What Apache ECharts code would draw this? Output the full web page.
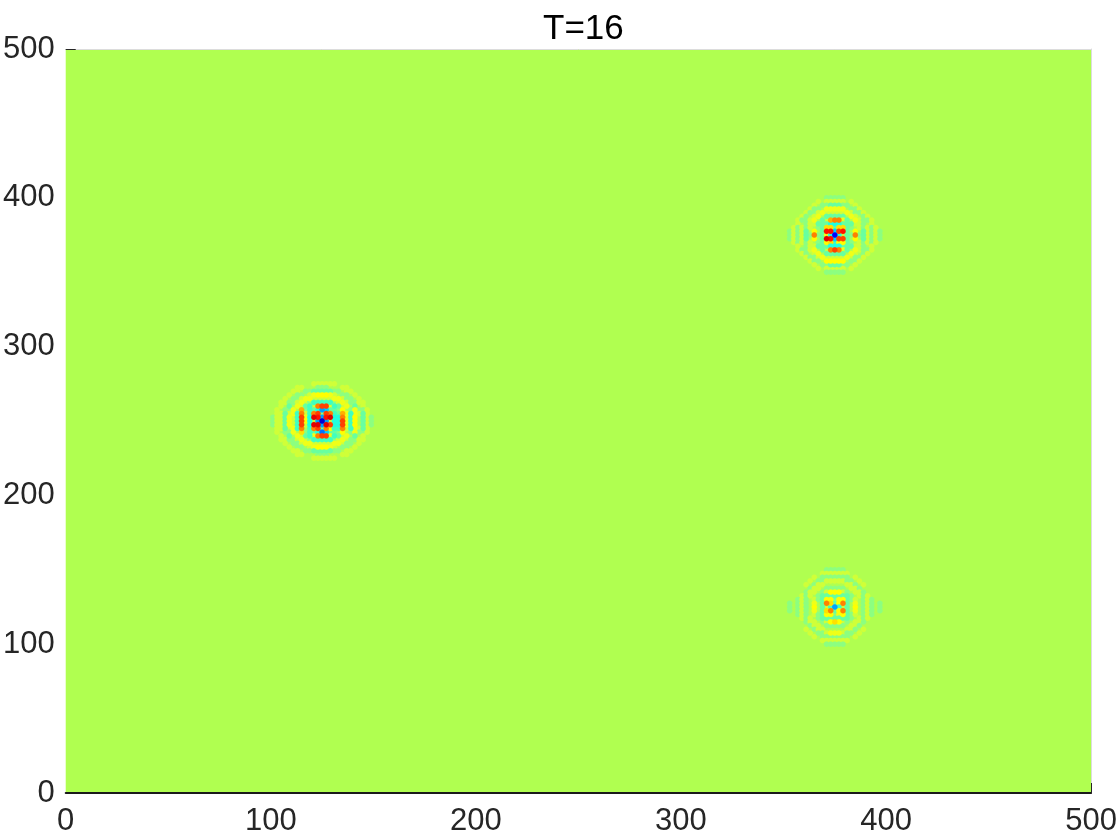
<!DOCTYPE html>
<html>
<head>
<meta charset="utf-8">
<style>html,body{margin:0;padding:0;background:#fff}#chart{width:1120px;height:840px}</style>
<script src="https://cdn.jsdelivr.net/npm/echarts@6/dist/echarts.min.js"></script>
</head>
<body>
<div id="chart"></div>
<script>
const titleText = 'T=16'
const xTicks = [0, 100, 200, 300, 400, 500]
const yTicks = [0, 100, 200, 300, 400, 500]
// cell size in axis units
const cellX = 2
const cellY = 2.5
// colour for each field level -10..9, jet-like, level 0 is the plot background
const levelColors = [
  '#0000d0', '#0000ff', '#0040ff', '#0070ff', '#00a0ff', '#00d0ff', '#20ffe0', '#40ffc0', '#68ffa0', '#8cff80',
  '#b0ff50',
  '#d0ff38', '#f0ff18', '#ffff00', '#ffe000', '#ffb000', '#ff8000', '#ff4000', '#ff1000', '#e00000'
]
// field values, top row first, 0 = background
const leftPacket = [
  [0,0,0,0,0,0,0,0,0,0,1,1,1,1,1,1,0,0,0,0,0,0,0,0,0],
  [0,0,0,0,0,0,1,1,0,0,0,-1,-1,-1,0,0,0,1,1,0,0,0,0,0,0],
  [0,0,0,0,0,1,1,0,-1,-1,-2,-2,-2,-2,-2,-1,-1,0,1,1,0,0,0,0,0],
  [0,0,0,0,1,0,-1,-1,0,1,2,3,3,3,2,1,0,-1,-1,0,1,0,0,0,0],
  [0,0,0,1,0,-1,-1,1,2,2,1,1,1,1,1,2,2,1,-1,-1,0,1,0,0,0],
  [0,0,1,1,-1,-1,1,2,1,-1,-3,-3,-3,-3,-3,-1,1,2,1,-1,-1,1,1,0,0],
  [0,0,1,0,-2,0,2,1,-2,-3,1,6,7,7,2,-3,-2,1,2,0,-2,0,1,0,0],
  [0,1,0,-1,-1,2,0,5,-1,-3,-2,-4,-6,-5,-2,-2,-1,3,0,-1,2,-1,-1,1,0],
  [0,1,1,-2,1,2,-3,6,1,-3,6,7,-1,7,6,-3,-2,5,2,-3,2,1,-2,1,0],
  [-1,1,1,-2,2,1,-3,7,2,-4,9,8,-6,8,9,-4,-4,6,2,-3,3,0,-2,1,-1],
  [-1,1,1,-2,2,1,-3,7,3,-4,1,-6,-10,-6,1,-4,-4,7,2,-3,3,0,-2,1,-1],
  [-1,1,1,-2,2,1,-3,7,1,-4,9,9,-6,9,7,-4,-4,7,2,-3,3,0,-2,1,-1],
  [0,1,1,-2,1,2,-3,6,0,-3,6,7,-2,6,3,-3,-3,6,1,-3,2,1,-2,1,0],
  [0,1,0,-1,-1,2,0,4,-1,-3,-2,-4,-7,-5,-2,-2,-1,3,0,-1,2,-1,-1,1,0],
  [0,0,1,0,-2,0,2,1,-2,-3,2,6,7,7,2,-3,-2,1,2,0,-2,0,1,0,0],
  [0,0,1,1,-1,-1,1,2,1,-1,-3,-3,-3,-3,-3,-1,1,2,1,-1,-1,1,1,0,0],
  [0,0,0,1,0,-1,-1,1,2,2,1,1,1,1,1,2,2,1,-1,-1,0,1,0,0,0],
  [0,0,0,0,1,0,-1,-1,0,1,2,3,3,3,2,1,0,-1,-1,0,1,0,0,0,0],
  [0,0,0,0,0,1,1,0,-1,-1,-2,-2,-2,-2,-2,-1,-1,0,1,1,0,0,0,0,0],
  [0,0,0,0,0,0,1,1,0,0,0,-1,-1,-1,0,0,0,1,1,0,0,0,0,0,0],
  [0,0,0,0,0,0,0,0,0,0,1,1,1,1,1,1,0,0,0,0,0,0,0,0,0]
]
const upperPacket = [
  [0,0,0,0,0,0,0,0,0,0,-1,-1,-1,-1,-1,0,0,0,0,0,0,0,0,0,0],
  [0,0,0,0,0,0,0,0,1,0,1,1,1,1,1,0,1,0,0,0,0,0,0,0,0],
  [0,0,0,0,0,0,0,1,0,-1,-1,-2,-2,-2,-1,-1,0,1,0,0,0,0,0,0,0],
  [0,0,0,0,0,0,1,-1,-1,0,2,2,2,2,2,0,-1,-1,1,0,0,0,0,0,0],
  [0,0,0,0,0,1,-1,-1,1,2,1,1,1,1,1,2,1,-1,-1,1,0,0,0,0,0],
  [0,0,0,0,1,-1,0,1,2,0,-2,-2,-2,-2,-2,0,2,1,0,-1,1,0,0,0,0],
  [0,0,0,1,-1,-1,1,2,0,-2,1,5,6,6,2,-2,0,2,1,-1,-1,1,0,0,0],
  [0,0,0,1,0,-1,1,1,-2,-2,-2,-4,-4,-4,-2,-2,-2,1,1,-1,0,1,0,0,0],
  [0,0,1,-1,1,-1,1,0,-1,-2,4,4,-2,4,4,-2,-1,0,1,-1,1,-1,1,0,0],
  [0,-1,1,-1,1,-2,0,3,0,-2,8,8,-5,7,8,-2,0,3,0,-2,1,-1,1,-1,0],
  [0,-1,1,-1,1,-2,-1,6,-1,-2,2,-4,-9,-4,1,-2,-1,6,-1,-2,1,-1,1,-1,0],
  [0,-1,1,-1,1,-2,0,3,0,-2,9,8,-5,7,7,-2,0,3,0,-2,1,-1,1,-1,0],
  [0,0,1,-1,1,-1,1,0,-1,-2,3,4,-3,3,3,-2,-1,0,1,-1,1,-1,1,0,0],
  [0,0,0,1,0,-1,1,1,-2,-2,-2,-4,-4,-4,-2,-2,-2,1,1,-1,0,1,0,0,0],
  [0,0,0,1,-1,-1,1,2,0,-2,1,6,7,6,2,-2,0,2,1,-1,-1,1,0,0,0],
  [0,0,0,0,1,-1,0,1,2,0,-2,-2,-2,-2,-2,0,2,1,0,-1,1,0,0,0,0],
  [0,0,0,0,0,1,-1,-1,1,2,1,1,1,1,1,2,1,-1,-1,1,0,0,0,0,0],
  [0,0,0,0,0,0,1,-1,-1,0,3,3,3,3,3,0,-1,-1,1,0,0,0,0,0,0],
  [0,0,0,0,0,0,0,1,0,-1,-1,-2,-2,-2,-1,-1,0,1,0,0,0,0,0,0,0],
  [0,0,0,0,0,0,0,0,1,0,1,1,1,1,1,0,1,0,0,0,0,0,0,0,0],
  [0,0,0,0,0,0,0,0,0,0,-1,-1,-1,-1,-1,0,0,0,0,0,0,0,0,0,0]
]
const lowerPacket = [
  [0,0,0,0,0,0,0,0,0,0,-1,-1,-1,-1,-1,0,0,0,0,0,0,0,0,0,0],
  [0,0,0,0,0,0,0,0,0,1,1,1,1,1,1,1,0,0,0,0,0,0,0,0,0],
  [0,0,0,0,0,0,0,1,0,-1,-1,-1,-1,-1,-1,-1,0,1,0,0,0,0,0,0,0],
  [0,0,0,0,0,0,1,0,-1,-1,1,1,1,1,1,-1,-1,0,1,0,0,0,0,0,0],
  [0,0,0,0,0,1,0,-1,1,1,0,0,0,0,0,1,1,-1,0,1,0,0,0,0,0],
  [0,0,0,0,0,0,-1,1,1,0,-1,-1,-1,-1,-1,0,1,1,-1,0,0,0,0,0,0],
  [0,0,0,0,0,-1,1,1,0,-1,1,3,3,3,1,-1,0,1,1,-1,0,0,0,0,0],
  [0,0,0,0,1,-1,1,0,-1,-2,-2,-2,-2,-2,-2,-2,-1,0,1,-1,1,0,0,0,0],
  [0,0,0,-1,1,-1,0,1,-1,-2,3,3,-1,3,3,-2,-1,1,0,-1,1,-1,0,0,0],
  [0,-1,0,-1,1,-1,0,2,0,-2,6,4,-2,3,6,-2,0,2,0,-1,1,-1,0,-1,0],
  [0,-1,0,-1,1,-1,0,3,0,-2,1,-3,-6,-3,1,-2,0,3,0,-1,1,-1,0,-1,0],
  [0,-1,0,-1,1,-1,0,2,0,-2,4,6,-2,3,6,-2,0,2,0,-1,1,-1,0,-1,0],
  [0,0,0,-1,1,-1,0,1,-1,-2,3,3,-1,2,3,-2,-1,1,0,-1,1,-1,0,0,0],
  [0,0,0,0,1,-1,1,0,-1,-2,-2,-2,-2,-2,-2,-2,-1,0,1,-1,1,0,0,0,0],
  [0,0,0,0,0,-1,1,1,0,-1,1,3,4,3,1,-1,0,1,1,-1,0,0,0,0,0],
  [0,0,0,0,0,0,-1,1,1,0,-1,-1,-1,-1,-1,0,1,1,-1,0,0,0,0,0,0],
  [0,0,0,0,0,1,0,-1,1,1,0,0,0,0,0,1,1,-1,0,1,0,0,0,0,0],
  [0,0,0,0,0,0,1,0,-1,-1,1,2,2,2,1,-1,-1,0,1,0,0,0,0,0,0],
  [0,0,0,0,0,0,0,1,0,-1,-1,-1,-1,-1,-1,-1,0,1,0,0,0,0,0,0,0],
  [0,0,0,0,0,0,0,0,0,1,1,1,1,1,1,1,0,0,0,0,0,0,0,0,0],
  [0,0,0,0,0,0,0,0,0,0,-1,-1,-1,-1,-1,0,0,0,0,0,0,0,0,0,0]
]
const packets = [
  { cx: 125, cy: 250, rows: leftPacket },
  { cx: 375, cy: 375, rows: upperPacket },
  { cx: 375, cy: 125, rows: lowerPacket }
]

const cells = []
packets.forEach(p => {
  p.rows.forEach((row, i) => {
    row.forEach((v, k) => {
      if (v !== 0) cells.push([p.cx + (k - 12) * cellX, p.cy + (10 - i) * cellY, v])
    })
  })
})
// weak levels first so the strong lobes stay on top
cells.sort((a, b) => Math.abs(a[2]) - Math.abs(b[2]))

const textColor = '#262626'
const font = 'Liberation Sans'
const chart = echarts.init(document.getElementById('chart'))
chart.setOption({
  animation: false,
  title: {
    text: titleText,
    left: 538,
    top: 7,
    textStyle: { fontFamily: font, fontSize: 35, fontWeight: 'normal', color: '#000' }
  },
  grid: { left: 65, right: 28, top: 49, bottom: 47, show: true, backgroundColor: levelColors[10], borderWidth: 0 },
  xAxis: [
    {
      type: 'value', min: 0, max: 500, interval: 100,
      splitLine: { show: false },
      axisLine: { show: true, onZero: false, lineStyle: { color: '#1a1a1a', width: 2 } },
      axisTick: { show: true, inside: true, length: 10, customValues: [500], lineStyle: { color: '#262626', width: 1 } },
      axisLabel: { fontFamily: font, fontSize: 31, color: textColor, margin: 13, showMinLabel: true, showMaxLabel: true, customValues: xTicks }
    },
    {
      type: 'value', position: 'top', min: 0, max: 500, interval: 100,
      splitLine: { show: false },
      axisLine: { show: true, onZero: false, lineStyle: { color: '#dcdcdc', width: 1 } },
      axisTick: { show: false }, axisLabel: { show: false }
    }
  ],
  yAxis: [
    {
      type: 'value', min: 0, max: 500, interval: 100,
      splitLine: { show: false },
      axisLine: { show: false },
      axisTick: { show: true, inside: true, length: 10, customValues: [500], lineStyle: { color: '#262626', width: 1 } },
      axisLabel: { fontFamily: font, fontSize: 31, color: textColor, margin: 11, showMinLabel: true, showMaxLabel: true, customValues: yTicks }
    },
    {
      type: 'value', position: 'right', min: 0, max: 500, interval: 100,
      splitLine: { show: false },
      axisLine: { show: true, onZero: false, lineStyle: { color: '#dcdcdc', width: 1 } },
      axisTick: { show: false }, axisLabel: { show: false }
    }
  ],
  series: [
    {
      type: 'custom',
      coordinateSystem: 'cartesian2d',
      encode: { x: 0, y: 1 },
      data: cells,
      renderItem: function (params, api) {
        const c = api.coord([api.value(0), api.value(1)])
        const s = api.size([cellX, cellY])
        const color = levelColors[api.value(2) + 10]
        // soft round cell, a bit larger than the grid step so neighbours melt together
        return {
          type: 'ellipse',
          shape: { cx: c[0], cy: c[1], rx: s[0] * 0.9, ry: s[1] * 0.9 },
          style: {
            fill: {
              type: 'radial', x: 0.5, y: 0.5, r: 0.5,
              colorStops: [
                { offset: 0, color: color },
                { offset: 0.65, color: color },
                { offset: 1, color: echarts.color.modifyAlpha(color, 0) }
              ]
            }
          }
        }
      }
    }
  ]
})
</script>
</body>
</html>
